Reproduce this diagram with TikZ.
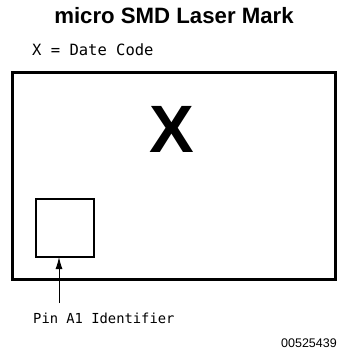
\documentclass[tikz,border=0pt]{standalone}
\usepackage{fontspec}
\setmainfont{Liberation Sans}
\newfontfamily\monof{DejaVu Sans Mono}
\usetikzlibrary{arrows.meta}
\begin{document}
\begin{tikzpicture}[x=1pt,y=-1pt,
  mono/.style={font=\monof\fontsize{15.5}{18}\selectfont, inner sep=0pt},
  frame/.style={draw=black, line width=3pt},
  pinbox/.style={draw=black, line width=2.5pt, minimum width=58pt, minimum height=58pt, inner sep=0pt}]
\useasboundingbox (0,0) rectangle (339,356);
\node[anchor=base, inner sep=0pt, font=\bfseries\fontsize{22.2}{26}\selectfont] (title) at (174,23.5) {micro SMD Laser Mark};
\node[mono, anchor=base west] (key) at (32,55) {X = Date Code};
\draw[frame] (12,72) rectangle (335,279);
\node[inner sep=0pt, font=\bfseries\fontsize{67}{70}\selectfont, anchor=base] (x) at (172,152) {X};
\node[pinbox] (sq) at (65,228) {};
\node[mono, anchor=base west, font=\monof\fontsize{13.8}{16}\selectfont] (pin) at (33,323) {Pin A1 Identifier};
\coordinate (tip) at (59,257);
\coordinate (tail) at (59,303);
\draw[line width=1pt, -{Latex[length=12pt,width=7pt]}] (tail) -- (tip);
\node[anchor=base east, inner sep=0pt, font=\fontsize{12.5}{15}\selectfont] (num) at (337,347) {00525439};
\end{tikzpicture}
\end{document}
